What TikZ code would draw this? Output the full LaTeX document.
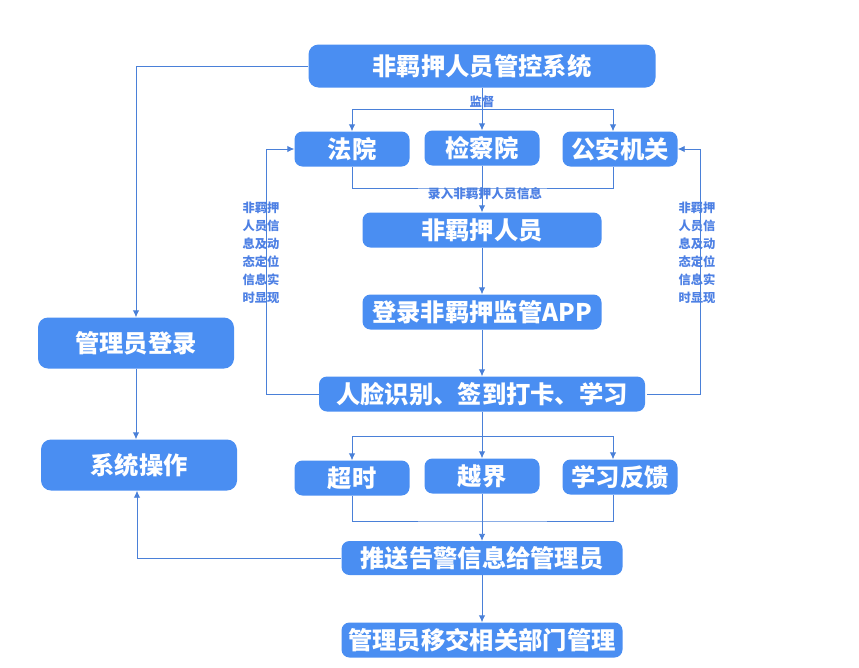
\documentclass[tikz,border=0pt]{standalone}
\usepackage{fontspec}
\newfontfamily\cjk{Noto Sans CJK SC}
\usepackage{tikz}
\usetikzlibrary{positioning, calc, arrows.meta}
\definecolor{boxblue}{HTML}{4A8EF2}
\definecolor{lineblue}{HTML}{4A80D8}
\definecolor{txtblue}{HTML}{4D80E4}

\begin{document}
\begin{tikzpicture}[x=1pt, y=-1pt, node distance=82pt]
    \tikzstyle{stage}=[fill=boxblue, rectangle, rounded corners=8pt, text=white, inner sep=0pt,
        minimum height=35pt, font=\cjk\bfseries\fontsize{24.3}{24.3}\selectfont];
    \tikzstyle{note}=[text=txtblue, inner sep=0pt, font=\cjk\bfseries\fontsize{12.3}{18}\selectfont];
    \tikzstyle{flow}=[draw=lineblue, line width=0.9pt, -{Latex[length=7pt,width=6.5pt]}];
    \tikzstyle{link}=[draw=lineblue, line width=0.9pt];
    \useasboundingbox (0,0) rectangle (859,667);

    % main column
    \node[stage, minimum width=347pt, minimum height=43pt, rounded corners=10pt] (system) at (482,66) {非羁押人员管控系统};
    \node[stage, minimum width=115pt, below of=system] (jcy) {检察院};
    \node[stage, minimum width=115pt] (fy) at (352,149) {法院};
    \node[stage, minimum width=115pt] (gaj) at (620,149) {公安机关};
    \node[stage, minimum width=239pt, below of=jcy] (person) {非羁押人员};
    \node[stage, minimum width=239pt, below of=person] (app) {登录非羁押监管APP};
    \node[stage, minimum width=326pt, below of=app] (face) {人脸识别、签到打卡、学习};
    \node[stage, minimum width=115pt, below of=face] (yj) {越界};
    \node[stage, minimum width=115pt] (cs) at (352,478) {超时};
    \node[stage, minimum width=115pt] (xxfk) at (620,477) {学习反馈};
    \node[stage, minimum width=281pt, minimum height=34pt, below of=yj] (push) {推送告警信息给管理员};
    \node[stage, minimum width=281pt, below of=push] (transfer) {管理员移交相关部门管理};

    % admin column
    \node[stage, minimum width=196pt, minimum height=51pt, rounded corners=10pt] (admin) at (136,343) {管理员登录};
    \node[stage, minimum width=196pt, minimum height=51pt, rounded corners=10pt] (sysop) at (139,465) {系统操作};

    % labels
    \node[note] (jd) at (482,102) {监督};
    \node[note, font=\cjk\bfseries\fontsize{12.7}{18}\selectfont] (lr) at (485,194) {录入非羁押人员信息};
    \node[note, align=center] (showl) at (261,253) {非羁押\\人员信\\息及动\\态定位\\信息实\\时显现};
    \node[note, align=center] (showr) at (697,253) {非羁押\\人员信\\息及动\\态定位\\信息实\\时显现};

    \coordinate (jdbar) at (482,109);
    \coordinate (lrbar) at (482,188);
    \coordinate (lloop) at (266,149);
    \coordinate (rloop) at (700,149);
    \coordinate (fzbar) at (482,436);
    \coordinate (hbbar) at (482,521);

    \path[every edge/.style=flow]
    (system.south) edge (jcy.north)
    (jcy.south) edge (person.north)
    (person) edge (app)
    (app) edge (face)
    (face.south) edge (yj.north)
    (yj.south) edge (push.north)
    (push) edge (transfer);

    \draw[flow] (admin.south) -- (admin.south |- sysop.north);
    \draw[flow] (jdbar) -| ([xshift=-7pt]gaj.north);
    \draw[flow] (jdbar) -| (fy.north);
    \draw[link] (fy.south) |- (lrbar) -| ([xshift=-7pt]gaj.south);
    \draw[flow] (face.west) -| (lloop) -- (fy.west);
    \draw[flow] ([xshift=2pt]face.east) -| (rloop) -- (gaj.east);
    \draw[flow] (fzbar) -| (cs.north);
    \draw[flow] (fzbar) -| ([xshift=-7pt]xxfk.north);
    \draw[link] (cs.south) |- (hbbar) -| ([xshift=-7pt]xxfk.south);
    \draw[flow] (system.west) -| (admin.north);
    \draw[flow] (push.west) -| ([xshift=-2pt]sysop.south);
\end{tikzpicture}
\end{document}
